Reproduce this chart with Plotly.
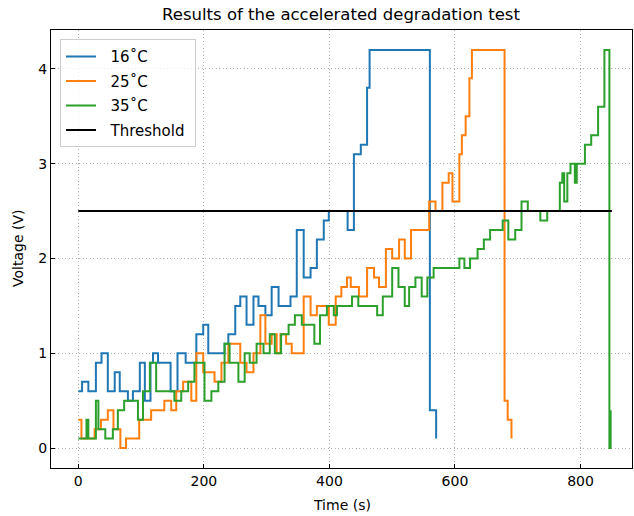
import plotly.graph_objects as go

# 16 °C series (step breakpoints)
t16 = [0, 6, 16, 28, 37, 47, 58, 66, 79, 87, 98, 106, 115, 119, 127, 147, 158, 171, 188, 199, 207,
       233, 239, 250, 258, 268, 279, 287, 298, 308, 319, 338, 348, 359, 370, 380, 391, 399, 429, 439,
       450, 460, 464, 560, 570]
v16 = [0.6, 0.7, 0.6, 0.9, 1.0, 0.6, 0.8, 0.6, 0.5, 0.6, 0.9, 0.5, 0.9, 1.0, 0.9, 0.6, 1.0, 0.9, 1.2, 1.3, 1.0,
       1.1, 1.2, 1.5, 1.6, 1.3, 1.6, 1.5, 1.4, 1.7, 1.5, 1.6, 2.3, 1.8, 1.9, 2.2, 2.4, 2.5, 2.3, 3.1,
       3.2, 3.8, 4.2, 0.4, 0.1]

# 25 °C series
t25 = [0, 5, 26, 36, 47, 56, 67, 76, 97, 116, 137, 148, 156, 167, 180, 188, 199, 217, 228, 239, 258,
       268, 279, 290, 298, 308, 316, 322, 331, 340, 359, 370, 380, 399, 410, 419, 428, 434, 447, 460,
       471, 479, 490, 500, 511, 520, 530, 559, 569, 580, 590, 596, 607, 611, 617, 623, 627, 679, 684, 690]
v25 = [0.3, 0.1, 0.2, 0.3, 0.4, 0.2, 0.0, 0.1, 0.3, 0.4, 0.5, 0.4, 0.6, 0.7, 0.5, 1.0, 0.8, 0.7, 0.9, 1.1, 0.9,
       0.8, 1.0, 1.4, 1.1, 1.2, 1.0, 1.2, 1.1, 1.0, 1.6, 1.4, 1.5, 1.3, 1.6, 1.7, 1.8, 1.7, 1.6, 1.9,
       1.8, 1.7, 2.1, 2.0, 2.2, 2.0, 2.3, 2.6, 2.5, 2.8, 2.9, 2.6, 3.1, 3.3, 3.5, 3.9, 4.2, 0.5, 0.3, 0.1]

# 35 °C series
t35 = [0, 13, 16, 28, 32, 43, 55, 63, 73, 95, 103, 114, 124, 153, 164, 175, 185, 201, 212, 223, 233,
       241, 255, 265, 273, 284, 295, 305, 313, 323, 335, 345, 356, 376, 385, 396, 407, 412, 436, 446,
       476, 485, 500, 510, 520, 527, 537, 547, 556, 566, 607, 615, 624, 636, 646, 656, 676, 685, 696,
       706, 716, 736, 747, 767, 771, 774, 779, 784, 791, 794, 807, 817, 828, 838, 846, 848]
v35 = [0.1, 0.3, 0.1, 0.5, 0.2, 0.1, 0.2, 0.4, 0.5, 0.3, 0.6, 0.9, 0.6, 0.5, 0.6, 0.7, 0.9, 0.5, 0.6, 0.7, 1.1,
       0.9, 0.7, 1.0, 0.9, 1.1, 1.0, 1.2, 1.0, 1.2, 1.3, 1.4, 1.3, 1.1, 1.4, 1.5, 1.4, 1.5, 1.6, 1.5,
       1.4, 1.6, 1.9, 1.7, 1.5, 1.7, 1.8, 1.6, 1.8, 1.9, 2.0, 1.9, 2.0, 2.1, 2.2, 2.3, 2.4, 2.2, 2.3,
       2.6, 2.5, 2.4, 2.5, 2.8, 2.9, 2.6, 2.9, 3.0, 2.8, 3.0, 3.2, 3.3, 3.6, 4.2, 0.0, 0.4]

threshold_t = [0, 850]
threshold_v = [2.5, 2.5]

names = ["16˚C", "25˚C", "35˚C", "Threshold"]
colors = ["#1f77b4", "#ff7f0e", "#2ca02c", "black"]

pad = "\u00a0\u00a0"
fig = go.Figure()
for i, (t, v, n, c) in enumerate(zip([t16, t25, t35], [v16, v25, v35], names[:3], colors[:3])):
    fig.add_trace(go.Scatter(x=t, y=v, mode="lines", name=pad + n, legendgroup=f"g{i}",
                             line=dict(color=c, width=2, shape="hv")))
fig.add_trace(go.Scatter(x=threshold_t, y=threshold_v, mode="lines", name=pad + names[3] + "\u00a0",
                         legendgroup="g3", line=dict(color=colors[3], width=2)))

axis_common = dict(
    showline=True, linecolor="black", linewidth=1, mirror=True,
    ticks="inside", ticklen=4, tickcolor="black",
    showgrid=True, gridcolor="#b0b0b0", griddash="1px,2.5px", gridwidth=1,
    zeroline=False,
    tickfont=dict(family="DejaVu Sans", size=14, color="black"),
)

fig.update_xaxes(range=[-43.5, 882], tickvals=[0, 200, 400, 600, 800], **axis_common)
fig.update_yaxes(range=[-0.21, 4.41], tickvals=[0, 1, 2, 3, 4], **axis_common)

fig.update_layout(
    width=634, height=516,
    margin=dict(l=51, r=2, t=30, b=48),
    plot_bgcolor="white", paper_bgcolor="white",
    font=dict(family="DejaVu Sans", color="black"),
    title=dict(text="Results of the accelerated degradation test",
               x=(341 / 634), xanchor="center", y=1 - 14 / 516, yanchor="middle",
               yref="container", xref="container",
               font=dict(family="DejaVu Sans", size=16.5, color="black")),
    legend=dict(x=0.0155, y=0.979, xanchor="left", yanchor="top",
                bgcolor="rgba(255,255,255,0.8)", bordercolor="#cccccc", borderwidth=1,
                font=dict(family="DejaVu Sans", size=15, color="black"),
                tracegroupgap=2),
    showlegend=True,
    annotations=[
        dict(text="Time (s)", xref="paper", yref="paper", x=0.5, y=(468 - 505) / 438,
             xanchor="center", yanchor="middle", showarrow=False,
             font=dict(family="DejaVu Sans", size=14, color="black")),
        dict(text="Voltage (V)", xref="paper", yref="paper", x=(18 - 51) / 581, y=0.5,
             xanchor="center", yanchor="middle", showarrow=False, textangle=-90,
             font=dict(family="DejaVu Sans", size=14, color="black")),
    ],
)

fig.write_html("out.html")
